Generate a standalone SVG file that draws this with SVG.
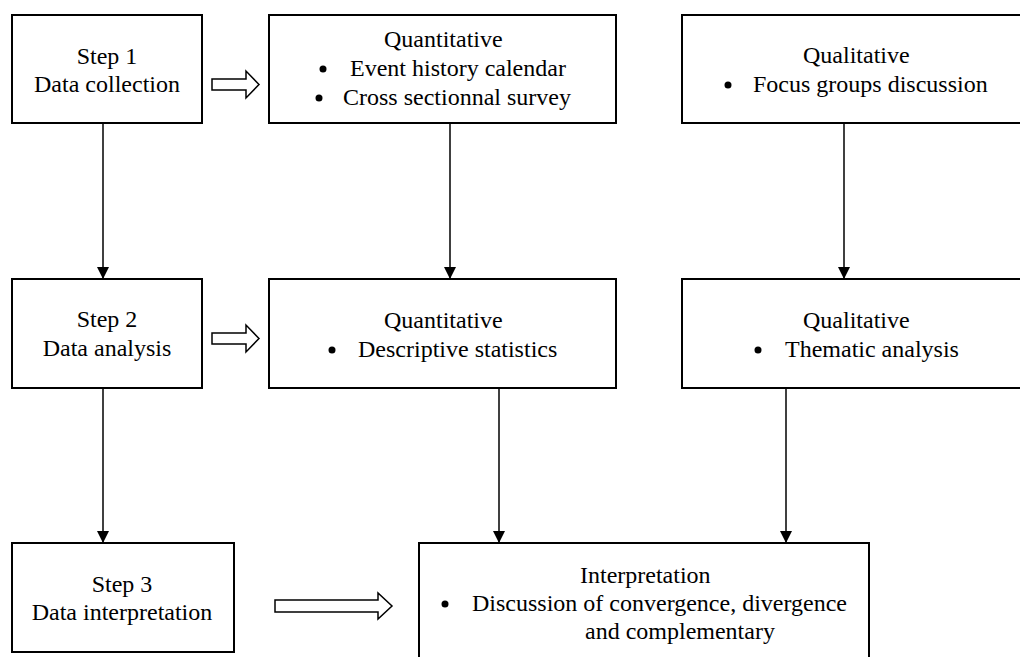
<svg xmlns="http://www.w3.org/2000/svg" width="1020" height="657" viewBox="0 0 1020 657">
<style>
.box{fill:#fff;stroke:#000;stroke-width:2}
.t{font-family:"Liberation Serif","Times New Roman",serif;font-size:24px;fill:#000}
.c{text-anchor:middle}
.ln{stroke:#000;stroke-width:1.5;fill:none}
.hol{fill:#fff;stroke:#000;stroke-width:1.5;stroke-linejoin:miter}
.dot{fill:#000}
</style>
<defs>
<marker id="ah" markerWidth="12" markerHeight="12" viewBox="0 0 12 12" refX="12" refY="6" orient="auto" markerUnits="userSpaceOnUse">
<path d="M0,0 L12,6 L0,12 Z" fill="#000"/>
</marker>
</defs>
<rect width="1020" height="657" fill="#fff"/>
<g id="connectors">
<line class="ln" x1="103" y1="123" x2="103" y2="279" marker-end="url(#ah)"/>
<line class="ln" x1="450" y1="123" x2="450" y2="279" marker-end="url(#ah)"/>
<line class="ln" x1="844" y1="123" x2="844" y2="279" marker-end="url(#ah)"/>
<line class="ln" x1="103" y1="388" x2="103" y2="543" marker-end="url(#ah)"/>
<line class="ln" x1="499" y1="388" x2="499" y2="543" marker-end="url(#ah)"/>
<line class="ln" x1="786" y1="388" x2="786" y2="543" marker-end="url(#ah)"/>
<path class="hol" d="M212,79 L246,79 L246,71 L259,84.5 L246,98 L246,90 L212,90 Z"/>
<path class="hol" d="M212,333 L246,333 L246,325 L259,338.5 L246,352 L246,344 L212,344 Z"/>
<path class="hol" d="M275,600 L378,600 L378,593 L392,606 L378,619 L378,612 L275,612 Z"/>
</g>
<g id="step1">
<rect class="box" x="12" y="15" width="190" height="108"/>
<text class="t c" x="107" y="64">Step 1</text>
<text class="t c" x="107" y="92">Data collection</text>
</g>
<g id="quant1">
<rect class="box" x="269" y="15" width="347" height="108"/>
<text class="t" x="384" y="47">Quantitative</text>
<circle class="dot" cx="323" cy="69" r="3.5"/>
<text class="t" x="350" y="76">Event history calendar</text>
<circle class="dot" cx="319" cy="98" r="3.5"/>
<text class="t" x="343" y="105">Cross sectionnal survey</text>
</g>
<g id="qual1">
<rect class="box" x="682" y="15" width="349" height="108"/>
<text class="t" x="803" y="63">Qualitative</text>
<circle class="dot" cx="728" cy="85" r="3.5"/>
<text class="t" x="753" y="92">Focus groups discussion</text>
</g>
<g id="step2">
<rect class="box" x="12" y="279" width="190" height="109"/>
<text class="t c" x="107" y="327">Step 2</text>
<text class="t c" x="107" y="356">Data analysis</text>
</g>
<g id="quant2">
<rect class="box" x="269" y="279" width="347" height="109"/>
<text class="t" x="384" y="328">Quantitative</text>
<circle class="dot" cx="332" cy="350" r="3.5"/>
<text class="t" x="358" y="357">Descriptive statistics</text>
</g>
<g id="qual2">
<rect class="box" x="682" y="279" width="349" height="109"/>
<text class="t" x="803" y="328">Qualitative</text>
<circle class="dot" cx="758" cy="350" r="3.5"/>
<text class="t" x="785" y="357">Thematic analysis</text>
</g>
<g id="step3">
<rect class="box" x="12" y="543" width="222" height="109"/>
<text class="t c" x="122" y="592">Step 3</text>
<text class="t c" x="122" y="620">Data interpretation</text>
</g>
<g id="interp">
<rect class="box" x="419" y="543" width="450" height="130"/>
<text class="t" x="580" y="583">Interpretation</text>
<circle class="dot" cx="445" cy="604" r="3.5"/>
<text class="t" x="472" y="611">Discussion of convergence, divergence</text>
<text class="t" x="585" y="639">and complementary</text>
</g>
</svg>
